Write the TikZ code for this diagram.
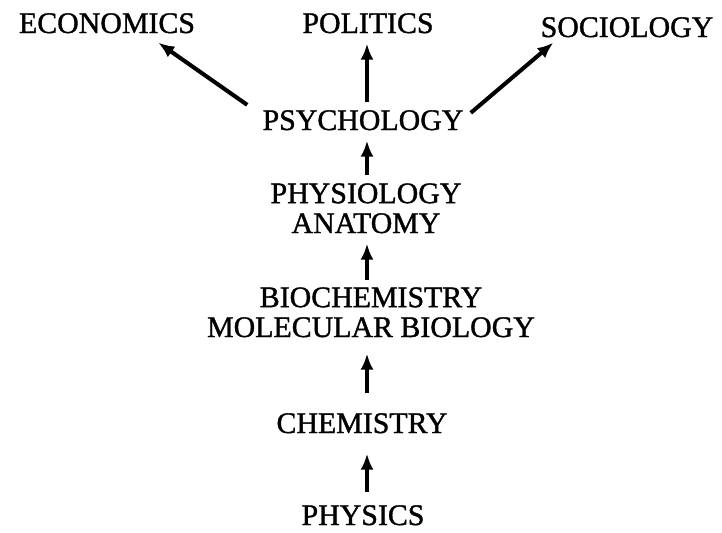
\documentclass[tikz,border=0pt]{standalone}
\usepackage{fontspec}
\setmainfont{Liberation Serif}[FakeBold=1.2]
\usetikzlibrary{arrows.meta, calc}

\begin{document}
\begin{tikzpicture}[font=\fontsize{17}{17}\selectfont,
  subj/.style={inner sep=0pt, anchor=base, align=center},
  up/.style={-{Latex[length=3.2mm,width=2.6mm]}, line width=1.8pt, shorten <=0.15cm, shorten >=0.2cm},
  branch/.style={up, line width=2.3pt, shorten <=0pt, shorten >=0pt}]
\useasboundingbox (0,0) rectangle (14.44,10.64);
\coordinate (spine) at (7.34, 0);

% Top row
\node[subj] (econ) at (2.14, 9.98) {ECONOMICS};
\node[subj] (pol) at (7.36, 9.98) {POLITICS};
\node[subj] (soc) at (12.54, 9.90) {SOCIOLOGY};

% Chain of sciences
\node[subj] (psych) at (7.26, 8.04) {PSYCHOLOGY};
\node[subj] (physio) at (7.32, 5.98) {PHYSIOLOGY\\ANATOMY};
\node[subj] (bio) at (7.42, 3.90) {BIOCHEMISTRY\\MOLECULAR BIOLOGY};
\node[subj] (chem) at (7.24, 1.98) {CHEMISTRY};
\node[subj] (phys) at (7.26, 0.14) {PHYSICS};

% Arrows up the chain
\draw[up, shorten <=0.26cm, shorten >=0.40cm] (phys.north -| spine) -- (chem.south -| spine);
\draw[up, shorten <=0.40cm, shorten >=0.32cm] (chem.north -| spine) -- (bio.south -| spine);
\draw[up] (bio.north -| spine) -- (physio.south -| spine);
\draw[up] (physio.north -| spine) -- (psych.south -| spine);
\draw[up] (psych.north -| spine) -- (pol.south -| spine);

% Branches
\draw[branch] ([shift={(-0.30,0.10)}]psych.north west) -- ([shift={(-0.74,-0.18)}]econ.south east);
\draw[branch] ([shift={(0.14,-0.06)}]psych.north east) -- ([shift={(0.26,-0.10)}]soc.south west);
\end{tikzpicture}
\end{document}
